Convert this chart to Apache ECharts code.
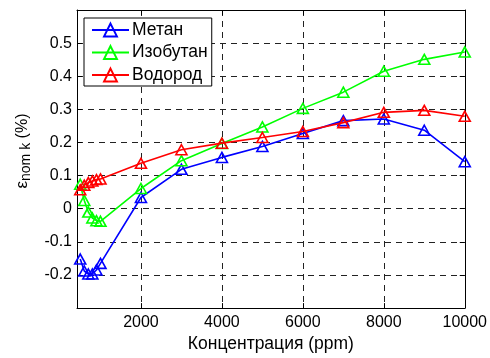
<!DOCTYPE html>
<html>
<head>
<meta charset="utf-8">
<script src="https://cdn.jsdelivr.net/npm/echarts@6/dist/echarts.min.js"></script>
<style>
html,body{margin:0;padding:0;background:#fff;}
#c{width:490px;height:358px;}
</style>
</head>
<body>
<div id="c"></div>
<script>
const concentrations = [500, 600, 700, 800, 900, 1000, 2000, 3000, 4000, 5000, 6000, 7000, 8000, 9000, 10000];
const methane  = [-0.152, -0.188, -0.197, -0.197, -0.185, -0.165, 0.034, 0.119, 0.155, 0.188, 0.227, 0.266, 0.271, 0.237, 0.142];
const isobutane = [0.074, 0.025, -0.010, -0.028, -0.036, -0.038, 0.061, 0.145, 0.197, 0.247, 0.303, 0.352, 0.415, 0.451, 0.473];
const hydrogen = [0.057, 0.071, 0.079, 0.084, 0.088, 0.090, 0.137, 0.178, 0.198, 0.215, 0.233, 0.260, 0.291, 0.297, 0.279];
const seriesNames = ['Метан', 'Изобутан', 'Водород'];
const xTickValues = [2000, 4000, 6000, 8000, 10000];
const xName = 'Концентрация (ppm)';

const FONT = 'Liberation Sans, Arial, sans-serif';
const colors = ['#0000ff', '#00ff00', '#ff0000'];
const dataSets = [methane, isobutane, hydrogen];

function pairs(xs, ys) { return xs.map((x, i) => [x, ys[i]]); }

const chart = echarts.init(document.getElementById('c'), null, {renderer: 'canvas'});
const gridDash = {color: '#222', type: [6, 5], width: 1};

const option = {
  animation: false,
  backgroundColor: '#fff',
  grid: {left: 77, right: 25, top: 10, bottom: 43, containLabel: false},
  legend: {
    orient: 'vertical',
    left: 84, top: 18,
    backgroundColor: '#fff',
    borderColor: '#000', borderWidth: 1, borderRadius: 0,
    padding: [3, 4, 2, 7],
    itemWidth: 37, itemHeight: 16, itemGap: 4.5,
    textStyle: {fontFamily: FONT, fontSize: 17.5, color: '#000', padding: [0, 0, 0, -2]},
    data: seriesNames
  },
  xAxis: [{
    type: 'value', min: 420, max: 10000, position: 'bottom',
    name: xName, nameLocation: 'middle', nameGap: 26,
    nameTextStyle: {fontFamily: FONT, fontSize: 17.5, color: '#000'},
    axisLine: {show: true, onZero: false, lineStyle: {color: '#000', width: 1}},
    axisTick: {show: true, inside: true, length: 5, lineStyle: {color: '#000'}, customValues: xTickValues},
    axisLabel: {show: true, margin: 6, fontFamily: FONT, fontSize: 16, color: '#000', customValues: xTickValues,
      formatter: v => String(v)},
    splitLine: {show: true, lineStyle: gridDash}
  }, {
    type: 'value', min: 420, max: 10000, position: 'top',
    axisLine: {show: true, onZero: false, lineStyle: {color: '#000', width: 1}},
    axisTick: {show: true, inside: true, length: 5, lineStyle: {color: '#000'}, customValues: xTickValues},
    axisLabel: {show: false},
    splitLine: {show: false}
  }],
  yAxis: [{
    type: 'value', min: -0.3, max: 0.6, interval: 0.1, position: 'left',
    name: '{e|ε}{s|nom k}{p| (%)}', nameLocation: 'middle', nameGap: 40,
    nameTextStyle: {
      color: '#000', fontFamily: FONT, padding: [0, 0, 0, 16],
      rich: {
        e: {fontFamily: FONT, fontSize: 17, lineHeight: 22, color: '#000'},
        s: {fontFamily: FONT, fontSize: 14, lineHeight: 12, verticalAlign: 'bottom', color: '#000'},
        p: {fontFamily: FONT, fontSize: 16, lineHeight: 22, color: '#000'}
      }
    },
    axisLine: {show: true, onZero: false, lineStyle: {color: '#000', width: 1}},
    axisTick: {show: true, inside: true, length: 5, lineStyle: {color: '#000'}},
    axisLabel: {show: true, margin: 5, fontFamily: FONT, fontSize: 16, color: '#000', showMinLabel: false, showMaxLabel: false},
    splitLine: {show: true, lineStyle: gridDash}
  }, {
    type: 'value', min: -0.3, max: 0.6, interval: 0.1, position: 'right',
    axisLine: {show: true, onZero: false, lineStyle: {color: '#000', width: 1}},
    axisTick: {show: true, inside: true, length: 5, lineStyle: {color: '#000'}},
    axisLabel: {show: false},
    splitLine: {show: false}
  }],
  series: seriesNames.map((name, i) => ({
    name: name,
    type: 'line',
    xAxisIndex: 0, yAxisIndex: 0,
    data: pairs(concentrations, dataSets[i]),
    symbol: 'triangle',
    symbolSize: [11, 10],
    showSymbol: true,
    lineStyle: {color: colors[i], width: 1.6},
    itemStyle: {color: 'rgba(255,255,255,0)', borderColor: colors[i], borderWidth: 1.6},
    emphasis: {disabled: true},
    z: 3 + i
  }))
};
chart.setOption(option);
</script>
</body>
</html>
